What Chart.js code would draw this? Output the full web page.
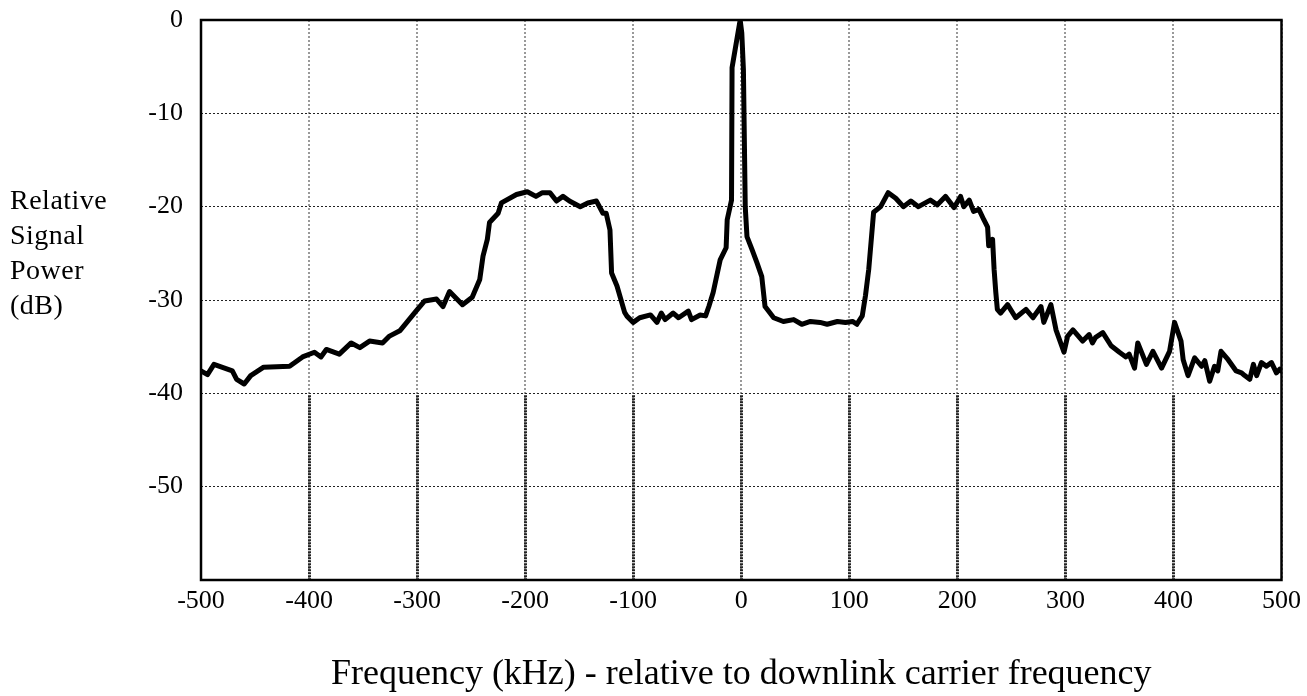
<!DOCTYPE html>
<html>
<head>
<meta charset="utf-8">
<title>Relative signal power</title>
<script src="https://cdn.jsdelivr.net/npm/chart.js@4.4.1/dist/chart.umd.min.js"></script>
<style>
    html, body { margin: 0; padding: 0; background: #fff; }
    #wrap { position: relative; width: 1307px; height: 696px; }
    #yTitle {
        position: absolute; left: 10px; top: 182px;
        font-family: "Liberation Serif", "Times New Roman", serif;
        font-size: 28px; line-height: 35px; color: #000;
        letter-spacing: 0.5px;
    }
</style>
</head>
<body>
<div id="wrap">
    <canvas id="spectrum" width="1307" height="696"></canvas>
    <div id="yTitle">Relative<br>Signal<br>Power<br>(dB)</div>
</div>
<script>
// frecuencia relativa a la portadora (kHz)
var freqKHz = [
    -500, -494, -488, -471, -467, -460, -454, -442, -418, -406,
    -395, -389, -384, -372, -361, -353, -344, -332, -326, -316,
    -301, -293, -282, -276, -270, -258, -249, -242, -239, -235,
    -233, -225, -222, -208, -198, -190, -184, -177, -171, -165,
    -159, -149, -142, -134, -128, -125, -121.5, -120, -115, -108,
    -106, -100, -94, -84, -78, -74, -70.5, -63, -58, -49,
    -46, -38, -33, -30, -26, -19.5, -14, -13, -9, -8.5,
    -1, 0.5, 2, 3.7, 5.3, 10, 14.5, 19, 22, 24,
    30, 39, 48.5, 56, 64, 73, 79.5, 89, 96.5, 103,
    107, 112, 115, 118, 122.5, 129, 136, 143, 150, 157,
    164, 175, 181.5, 189, 197, 203, 206, 211, 215, 220,
    224.5, 228, 229, 232.6, 234, 235.6, 237, 240, 246.5, 254,
    263.5, 270, 277.4, 280, 286.6, 291.3, 298.7, 302, 307, 316,
    322, 325, 328, 334.6, 342.3, 350, 356, 359, 364, 367,
    375, 381, 389, 396.4, 401, 407, 409, 413.5, 419.6, 426,
    429, 433.5, 438, 441, 444, 450.6, 458, 463, 466, 470.6,
    474, 477, 481.4, 486, 490.7, 495.3, 498.4, 500
];

// potencia relativa (dB)
var powerDb = [
    -37.6, -38.0, -36.9, -37.6, -38.5, -39.0, -38.1, -37.2, -37.1, -36.1,
    -35.6, -36.1, -35.3, -35.8, -34.6, -35.1, -34.4, -34.6, -33.9, -33.3,
    -31.2, -30.1, -29.9, -30.7, -29.1, -30.5, -29.7, -27.8, -25.3, -23.5,
    -21.7, -20.7, -19.6, -18.7, -18.4, -18.9, -18.5, -18.5, -19.4, -18.9,
    -19.4, -20.0, -19.6, -19.4, -20.7, -20.7, -22.5, -27.1, -28.5, -31.3,
    -31.7, -32.4, -31.9, -31.6, -32.4, -31.4, -32.1, -31.4, -31.9, -31.2,
    -32.1, -31.6, -31.7, -30.7, -29.2, -25.7, -24.4, -21.4, -19.3, -5.1,
    0, -1.4, -5.3, -20.0, -23.2, -24.6, -26.0, -27.5, -30.7, -31.0,
    -31.9, -32.3, -32.1, -32.6, -32.3, -32.4, -32.6, -32.3, -32.4, -32.3,
    -32.6, -31.7, -29.5, -26.7, -20.6, -20.0, -18.5, -19.1, -20.0, -19.4,
    -20.0, -19.3, -19.8, -18.9, -20.1, -18.9, -20.0, -19.3, -20.5, -20.3,
    -21.4, -22.2, -24.2, -23.5, -26.7, -29.2, -31.0, -31.4, -30.5, -31.9,
    -31.0, -31.9, -30.7, -32.4, -30.5, -33.2, -35.6, -33.9, -33.2, -34.4,
    -33.7, -34.6, -34.0, -33.5, -34.9, -35.6, -36.1, -35.8, -37.3, -34.6,
    -36.9, -35.5, -37.3, -35.5, -32.4, -34.4, -36.4, -38.1, -36.2, -37.1,
    -36.5, -38.7, -37.1, -37.6, -35.5, -36.4, -37.6, -37.8, -38.1, -38.5,
    -36.9, -38.1, -36.7, -37.1, -36.7, -37.8, -37.4, -37.6
];

// marcas de los ejes
var xTickValues = [-500, -400, -300, -200, -100, 0, 100, 200, 300, 400, 500];
var yTickValues = [0, -10, -20, -30, -40, -50, -60];

document.addEventListener("DOMContentLoaded", function() {
    Chart.defaults.font.family = '"Liberation Serif", "Times New Roman", serif';
    Chart.defaults.font.size = 26;
    Chart.defaults.color = '#000';

    var points = freqKHz.map(function(f, i) {
        return { x: f, y: powerDb[i] };
    });

    // marco negro y parte baja de la rejilla vertical
    var framePlugin = {
        id: 'frame',
        beforeDatasetsDraw: function(chart) {
            var ctx = chart.ctx;
            var xs = chart.scales.x, ys = chart.scales.y;
            var yTop = ys.getPixelForValue(-40);
            var yBot = ys.getPixelForValue(-60);
            ctx.save();
            ctx.strokeStyle = '#222';
            ctx.lineWidth = 3;
            ctx.setLineDash([2, 1]);
            xTickValues.forEach(function(v) {
                if (v === -500 || v === 500) return;
                var px = Math.round(xs.getPixelForValue(v)) + 0.5;
                ctx.beginPath();
                ctx.moveTo(px, yTop + 2);
                ctx.lineTo(px, yBot);
                ctx.stroke();
            });
            ctx.restore();
        },
        afterDatasetsDraw: function(chart) {
            var a = chart.chartArea;
            var ctx = chart.ctx;
            ctx.save();
            ctx.strokeStyle = '#000';
            ctx.lineWidth = 2.5;
            ctx.strokeRect(a.left, a.top, a.right - a.left, a.bottom - a.top);
            ctx.restore();
        }
    };

    new Chart(document.getElementById('spectrum'), {
        type: 'line',
        data: {
            datasets: [{
                label: 'Relative Signal Power',
                data: points,
                borderColor: '#000',
                borderWidth: 5,
                pointRadius: 0,
                tension: 0,
                borderJoinStyle: 'round',
                borderCapStyle: 'round'
            }]
        },
        plugins: [framePlugin],
        options: {
            responsive: false,
            animation: false,
            layout: { padding: { top: 20, right: 18, left: 0, bottom: 0 } },
            plugins: {
                legend: { display: false },
                tooltip: { enabled: false }
            },
            scales: {
                x: {
                    type: 'linear',
                    min: -500,
                    max: 500,
                    afterBuildTicks: function(scale) {
                        scale.ticks = xTickValues.map(function(v) { return { value: v }; });
                    },
                    afterFit: function(scale) { scale.height = 116; },
                    grid: { color: '#999', lineWidth: 2, drawTicks: false },
                    border: { display: false, dash: [2, 2] },
                    ticks: { padding: 6, maxRotation: 0 },
                    title: {
                        display: true,
                        text: 'Frequency (kHz) - relative to downlink carrier frequency',
                        font: { size: 36 },
                        padding: { top: 0, bottom: 0 }
                    }
                },
                y: {
                    type: 'linear',
                    min: -60,
                    max: 0,
                    afterBuildTicks: function(scale) {
                        scale.ticks = yTickValues.map(function(v) { return { value: v }; });
                    },
                    afterFit: function(scale) {
                        scale.width = 201;
                        scale.paddingTop = 0;
                        scale.paddingBottom = 0;
                    },
                    grid: { color: '#222', lineWidth: 1, drawTicks: false },
                    border: { display: false, dash: [2, 2] },
                    ticks: {
                        padding: 18,
                        callback: function(v) { return v === -60 ? '' : v; }
                    }
                }
            }
        }
    });
});
</script>
</body>
</html>
